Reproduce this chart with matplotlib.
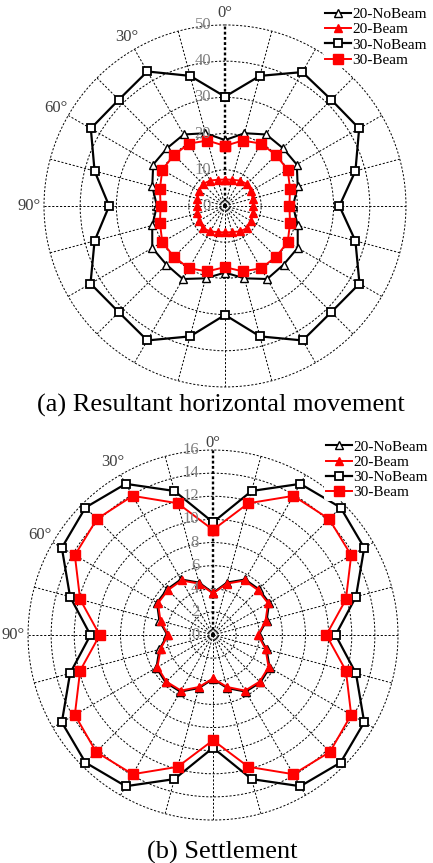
import numpy as np
import matplotlib
matplotlib.use("Agg")
import matplotlib.pyplot as plt

plt.rcParams['font.family'] = ['Liberation Serif', 'DejaVu Serif']

# Directions, degrees (0 at top, counter-clockwise)
angles = [0, 15, 30, 45, 60, 75, 90, 105, 120, 135, 150, 165,
          180, 195, 210, 225, 240, 255, 270, 285, 300, 315, 330, 345]

# (a) Resultant horizontal movement
a_20_nobeam = [18.2, 20.8, 22.8, 22.6, 22.9, 20.8, 18.8, 20.8, 23.2, 22.9, 23.3, 20.7,
               18.4, 20.7, 23.3, 22.9, 23.2, 20.8, 18.8, 20.8, 22.9, 22.6, 22.8, 20.8]
a_20_beam = [7.3, 7.5, 8.1, 8.6, 8.3, 7.9, 7.8, 7.9, 8.3, 8.7, 8.1, 7.5,
             7.3, 7.5, 8.1, 8.7, 8.3, 7.9, 7.8, 7.9, 8.3, 8.6, 8.1, 7.5]
a_30_nobeam = [30.2, 37.2, 42.9, 41.5, 42.8, 37.3, 32.0, 37.3, 42.9, 41.5, 42.9, 37.3,
               30.1, 37.3, 42.9, 41.5, 42.9, 37.3, 31.6, 37.3, 42.8, 41.5, 42.7, 37.2]
a_30_beam = [16.6, 18.7, 19.9, 19.9, 20.0, 18.6, 17.8, 18.6, 20.0, 19.9, 19.9, 18.7,
             16.9, 18.7, 19.9, 19.9, 20.0, 18.6, 17.8, 18.6, 20.0, 19.9, 19.9, 18.7]
a_rticks = [0, 10, 20, 30, 40, 50]

# (b) Settlement
b_20_nobeam = [3.65, 4.7, 5.55, 5.6, 5.6, 4.8, 3.95, 4.8, 5.65, 5.8, 5.65, 4.75,
               3.8, 4.75, 5.65, 5.8, 5.65, 4.8, 3.95, 4.8, 5.6, 5.6, 5.55, 4.7]
b_20_beam = [3.6, 4.6, 5.45, 5.5, 5.5, 4.7, 3.9, 4.7, 5.55, 5.7, 5.55, 4.65,
             3.75, 4.65, 5.55, 5.7, 5.55, 4.7, 3.9, 4.7, 5.5, 5.5, 5.45, 4.6]
b_30_nobeam = [9.75, 12.9, 15.1, 15.6, 15.1, 12.8, 10.6, 12.8, 15.1, 15.6, 15.1, 12.9,
               9.75, 12.9, 15.1, 15.6, 15.1, 12.8, 10.6, 12.8, 15.1, 15.6, 15.1, 12.9]
b_30_beam = [9.1, 11.8, 13.9, 14.2, 13.8, 11.9, 9.8, 11.9, 13.8, 14.3, 13.9, 11.8,
             9.1, 11.8, 13.9, 14.3, 13.8, 11.9, 9.8, 11.9, 13.8, 14.2, 13.9, 11.8]
b_rticks = [0, 2, 4, 6, 8, 10, 12, 14, 16]

labels = ["20-NoBeam", "20-Beam", "30-NoBeam", "30-Beam"]
angle_labels = {30: "30°", 60: "60°", 90: "90°"}


def closed(vals):
    return list(vals) + [vals[0]]


def draw_panel(ax, series, rticks, legend_anchor, top_lift):
    th = np.deg2rad(closed(angles))
    styles = [
        dict(color="black", marker="^", mfc="white", mec="black", ms=5.5, lw=1.5),
        dict(color="red", marker="^", mfc="red", mec="red", ms=6, lw=1.4),
        dict(color="black", marker="s", mfc="white", mec="black", ms=6, lw=1.6, mew=1.3),
        dict(color="red", marker="s", mfc="red", mec="red", ms=6.5, lw=1.4),
    ]
    for vals, lab, st in zip(series, labels, styles):
        ax.plot(th, closed(vals), label=lab, clip_on=False, **st)

    ax.set_theta_zero_location("N")
    ax.set_theta_direction(1)
    ax.set_ylim(0, rticks[-1])
    ax.set_yticks(rticks)
    ax.set_yticklabels([])
    ax.set_thetagrids(angles, [angle_labels.get(a, "") for a in angles],
                      fontsize=12, color="#404040")
    ax.tick_params(axis="x", pad=0)
    ax.spines["polar"].set_visible(False)
    ax.grid(True, color="black", linestyle=(0, (2.2, 1.8)), linewidth=0.7)
    for gl in ax.yaxis.get_gridlines():
        gl.set_clip_on(False)
    gl0 = ax.xaxis.get_gridlines()[0]
    gl0.set_linewidth(1.7)
    gl0.set_linestyle((0, (1.2, 1.0)))

    # the 0 degree label sits close to the outer ring
    ax.annotate("0°", xy=(0, rticks[-1]), xytext=(0, top_lift), textcoords="offset points",
                ha="center", va="bottom", fontsize=12, color="#404040")

    for r in rticks:
        ax.annotate(str(r), xy=(0, r), xytext=(-10, 0), textcoords="offset points",
                    ha="right", va="center", fontsize=12, color="#808080")

    ax.legend(loc="upper right", bbox_to_anchor=legend_anchor,
              bbox_transform=ax.figure.transFigure, fontsize=11,
              frameon=True, facecolor="white", edgecolor="none", framealpha=1,
              handlelength=1.7, handletextpad=0.1, labelspacing=0.1,
              borderpad=0.1, borderaxespad=0)


fig = plt.figure(figsize=(4.33, 8.63), dpi=100)

ax1 = fig.add_axes([0.1016, 0.5516, 0.836, 0.4195], projection="polar")
draw_panel(ax1, [a_20_nobeam, a_20_beam, a_30_nobeam, a_30_beam], a_rticks,
           (0.99, 0.993), 3)

ax2 = fig.add_axes([0.0647, 0.0498, 0.8545, 0.4287], projection="polar")
draw_panel(ax2, [b_20_nobeam, b_20_beam, b_30_nobeam, b_30_beam], b_rticks,
           (0.992, 0.492), -1)

fig.text(0.51, 1 - 405 / 863, "(a) Resultant horizontal movement", ha="center", va="center",
         fontsize=19)
fig.text(0.513, 1 - 852 / 863, "(b) Settlement", ha="center", va="center", fontsize=19)

fig.savefig("out.png", dpi=100)
